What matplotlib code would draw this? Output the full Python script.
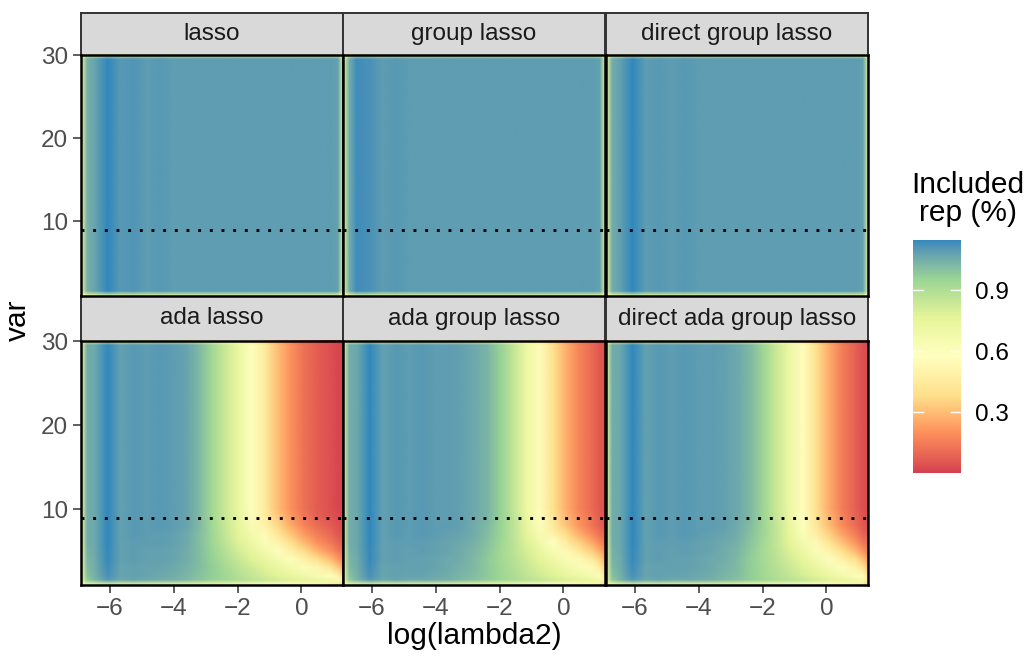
import numpy as np
import matplotlib
matplotlib.use("Agg")
import matplotlib.pyplot as plt
from matplotlib.colors import ListedColormap, Normalize, to_rgb
from matplotlib.image import NonUniformImage
from matplotlib.cm import ScalarMappable

plt.rcParams['font.family'] = ['Liberation Sans', 'DejaVu Sans']

# ---------------- data ----------------
log_lambda2 = [-6.9, -6.49, -6.08, -5.67, -5.26, -4.85, -4.44, -4.03, -3.62, -3.21,
               -2.8, -2.39, -1.98, -1.57, -1.16, -0.75, -0.34, 0.07, 0.48, 0.89, 1.3]
var_ids = list(range(1, 31))
methods = ["lasso", "group lasso", "direct group lasso",
           "ada lasso", "ada group lasso", "direct ada group lasso"]
true_cutoff = 9
x_ticks = [-6, -4, -2, 0]
y_ticks = [10, 20, 30]
fill_limits = (0.0, 1.146)
legend_breaks = [0.3, 0.6, 0.9]

# top row: same profile for every var
lasso_profile = [1.04, 1.07, 1.15, 1.10, 1.11, 1.09, 1.10, 1.09, 1.09, 1.09, 1.09,
                 1.09, 1.09, 1.09, 1.09, 1.09, 1.09, 1.09, 1.09, 1.09, 1.08]
group_lasso_profile = [1.05, 1.13, 1.12, 1.09, 1.10, 1.09, 1.09, 1.09, 1.09, 1.09, 1.09,
                       1.09, 1.09, 1.09, 1.09, 1.09, 1.09, 1.09, 1.09, 1.09, 1.08]
direct_group_lasso_profile = [1.05, 1.08, 1.15, 1.09, 1.10, 1.09, 1.10, 1.09, 1.09, 1.09, 1.09,
                              1.09, 1.09, 1.09, 1.09, 1.09, 1.09, 1.09, 1.09, 1.09, 1.08]

# bottom row: vars 1..9 individually, vars 10..30 share one profile
ada_lasso_low = [
    [0.98, 1.03, 1.10, 1.06, 1.07, 1.06, 1.05, 1.04, 1.02, 0.99, 0.96, 0.93, 0.90, 0.87, 0.84, 0.81, 0.78, 0.75, 0.72, 0.68, 0.64],
    [1.00, 1.04, 1.12, 1.07, 1.08, 1.07, 1.06, 1.05, 1.03, 1.00, 0.97, 0.93, 0.89, 0.85, 0.81, 0.77, 0.73, 0.69, 0.64, 0.58, 0.51],
    [1.02, 1.05, 1.13, 1.07, 1.08, 1.07, 1.07, 1.06, 1.04, 1.01, 0.97, 0.92, 0.87, 0.82, 0.77, 0.72, 0.66, 0.60, 0.52, 0.43, 0.34],
    [1.03, 1.05, 1.14, 1.08, 1.09, 1.08, 1.08, 1.07, 1.05, 1.01, 0.96, 0.90, 0.84, 0.78, 0.72, 0.65, 0.58, 0.49, 0.39, 0.30, 0.22],
    [1.04, 1.06, 1.14, 1.08, 1.09, 1.08, 1.08, 1.07, 1.05, 1.01, 0.95, 0.88, 0.81, 0.74, 0.66, 0.58, 0.48, 0.38, 0.28, 0.20, 0.14],
    [1.05, 1.06, 1.15, 1.08, 1.09, 1.09, 1.09, 1.08, 1.06, 1.01, 0.94, 0.86, 0.78, 0.70, 0.61, 0.50, 0.39, 0.29, 0.20, 0.14, 0.09],
    [1.05, 1.06, 1.15, 1.08, 1.10, 1.09, 1.09, 1.08, 1.06, 1.01, 0.94, 0.85, 0.76, 0.66, 0.55, 0.43, 0.32, 0.22, 0.15, 0.10, 0.06],
    [1.05, 1.06, 1.15, 1.08, 1.10, 1.09, 1.10, 1.09, 1.07, 1.02, 0.93, 0.84, 0.74, 0.62, 0.50, 0.37, 0.26, 0.17, 0.11, 0.07, 0.04],
    [1.05, 1.06, 1.15, 1.08, 1.10, 1.09, 1.10, 1.09, 1.07, 1.02, 0.93, 0.83, 0.73, 0.60, 0.47, 0.33, 0.22, 0.14, 0.08, 0.05, 0.03],
]
ada_lasso_high = [1.05, 1.06, 1.15, 1.08, 1.10, 1.09, 1.10, 1.09, 1.07, 1.02, 0.93,
                  0.83, 0.72, 0.58, 0.45, 0.30, 0.20, 0.12, 0.07, 0.04, 0.02]

ada_group_lasso_low = [
    [0.98, 1.03, 1.10, 1.06, 1.07, 1.06, 1.06, 1.05, 1.04, 1.02, 1.00, 0.97, 0.94, 0.91, 0.88, 0.85, 0.82, 0.79, 0.76, 0.72, 0.68],
    [1.00, 1.04, 1.12, 1.07, 1.08, 1.07, 1.07, 1.06, 1.05, 1.03, 1.01, 0.98, 0.94, 0.90, 0.86, 0.82, 0.78, 0.74, 0.70, 0.65, 0.60],
    [1.02, 1.05, 1.13, 1.07, 1.08, 1.08, 1.08, 1.07, 1.06, 1.04, 1.02, 0.98, 0.94, 0.89, 0.84, 0.79, 0.74, 0.68, 0.62, 0.55, 0.47],
    [1.03, 1.05, 1.14, 1.08, 1.09, 1.08, 1.08, 1.07, 1.06, 1.05, 1.02, 0.98, 0.93, 0.88, 0.82, 0.76, 0.69, 0.62, 0.54, 0.45, 0.36],
    [1.04, 1.06, 1.14, 1.08, 1.09, 1.08, 1.09, 1.08, 1.07, 1.05, 1.03, 0.99, 0.93, 0.87, 0.80, 0.72, 0.63, 0.54, 0.44, 0.34, 0.26],
    [1.05, 1.06, 1.15, 1.08, 1.09, 1.09, 1.09, 1.08, 1.07, 1.06, 1.04, 1.00, 0.94, 0.87, 0.78, 0.68, 0.57, 0.46, 0.35, 0.25, 0.18],
    [1.05, 1.06, 1.15, 1.08, 1.10, 1.09, 1.10, 1.09, 1.08, 1.07, 1.05, 1.01, 0.95, 0.86, 0.75, 0.63, 0.50, 0.38, 0.27, 0.18, 0.12],
    [1.05, 1.06, 1.15, 1.08, 1.10, 1.09, 1.10, 1.09, 1.09, 1.08, 1.05, 1.02, 0.95, 0.86, 0.73, 0.59, 0.45, 0.32, 0.21, 0.13, 0.08],
    [1.05, 1.06, 1.15, 1.08, 1.10, 1.09, 1.10, 1.09, 1.09, 1.08, 1.06, 1.03, 0.96, 0.86, 0.72, 0.57, 0.42, 0.29, 0.19, 0.12, 0.07],
]
ada_group_lasso_high = [1.05, 1.06, 1.15, 1.08, 1.10, 1.09, 1.10, 1.09, 1.09, 1.08, 1.06,
                        1.03, 0.96, 0.85, 0.70, 0.55, 0.40, 0.27, 0.17, 0.10, 0.06]

direct_ada_group_lasso_low = [
    [0.98, 1.03, 1.10, 1.06, 1.07, 1.06, 1.06, 1.05, 1.04, 1.02, 1.00, 0.97, 0.94, 0.91, 0.88, 0.85, 0.81, 0.77, 0.73, 0.69, 0.65],
    [1.00, 1.04, 1.12, 1.07, 1.08, 1.07, 1.07, 1.06, 1.05, 1.03, 1.01, 0.97, 0.93, 0.89, 0.85, 0.81, 0.77, 0.72, 0.67, 0.61, 0.55],
    [1.02, 1.05, 1.13, 1.07, 1.08, 1.08, 1.08, 1.07, 1.06, 1.04, 1.02, 0.97, 0.93, 0.88, 0.83, 0.78, 0.72, 0.65, 0.58, 0.50, 0.42],
    [1.03, 1.05, 1.14, 1.08, 1.09, 1.08, 1.08, 1.07, 1.06, 1.05, 1.02, 0.97, 0.92, 0.87, 0.81, 0.74, 0.66, 0.58, 0.49, 0.40, 0.31],
    [1.04, 1.06, 1.14, 1.08, 1.09, 1.08, 1.09, 1.08, 1.07, 1.05, 1.03, 0.98, 0.92, 0.86, 0.78, 0.70, 0.60, 0.50, 0.39, 0.29, 0.21],
    [1.05, 1.06, 1.15, 1.08, 1.09, 1.09, 1.09, 1.08, 1.07, 1.06, 1.04, 0.99, 0.93, 0.85, 0.76, 0.66, 0.54, 0.42, 0.31, 0.21, 0.14],
    [1.05, 1.06, 1.15, 1.08, 1.10, 1.09, 1.10, 1.09, 1.08, 1.07, 1.05, 1.00, 0.94, 0.85, 0.74, 0.61, 0.48, 0.35, 0.24, 0.15, 0.09],
    [1.05, 1.06, 1.15, 1.08, 1.10, 1.09, 1.10, 1.09, 1.09, 1.08, 1.05, 1.01, 0.94, 0.85, 0.72, 0.58, 0.44, 0.30, 0.19, 0.11, 0.06],
    [1.05, 1.06, 1.15, 1.08, 1.10, 1.09, 1.10, 1.09, 1.09, 1.08, 1.06, 1.02, 0.94, 0.84, 0.71, 0.57, 0.42, 0.28, 0.17, 0.09, 0.05],
]
direct_ada_group_lasso_high = [1.05, 1.06, 1.15, 1.08, 1.10, 1.09, 1.10, 1.09, 1.09, 1.08, 1.06,
                               1.02, 0.94, 0.83, 0.70, 0.56, 0.40, 0.26, 0.15, 0.08, 0.04]

# ---------------- build matrices ----------------
n_var = len(var_ids)


def top_matrix(profile):
    return np.tile(np.array(profile, float), (n_var, 1))


def bottom_matrix(low, high):
    low = np.array(low, float)
    return np.vstack([low, np.tile(np.array(high, float), (n_var - low.shape[0], 1))])


matrices = [top_matrix(lasso_profile), top_matrix(group_lasso_profile),
            top_matrix(direct_group_lasso_profile),
            bottom_matrix(ada_lasso_low, ada_lasso_high),
            bottom_matrix(ada_group_lasso_low, ada_group_lasso_high),
            bottom_matrix(direct_ada_group_lasso_low, direct_ada_group_lasso_high)]

# ---------------- colour scale (Spectral, interpolated in CIELAB like ggplot) ----------------
spectral7 = ['#D53E4F', '#FC8D59', '#FEE08B', '#FFFFBF', '#E6F598', '#99D594', '#3288BD']
_M = np.array([[0.4124564, 0.3575761, 0.1804375],
               [0.2126729, 0.7151522, 0.0721750],
               [0.0193339, 0.1191920, 0.9503041]])
_WHITE = np.array([0.95047, 1.0, 1.08883])


def _to_lab(rgb):
    rgb = np.asarray(rgb, float)
    lin = np.where(rgb <= 0.04045, rgb / 12.92, ((rgb + 0.055) / 1.055) ** 2.4)
    xyz = lin @ _M.T / _WHITE
    f = np.where(xyz > (6 / 29) ** 3, np.cbrt(xyz), xyz / (3 * (6 / 29) ** 2) + 4 / 29)
    return np.stack([116 * f[..., 1] - 16, 500 * (f[..., 0] - f[..., 1]),
                     200 * (f[..., 1] - f[..., 2])], axis=-1)


def _from_lab(lab):
    fy_ = (lab[..., 0] + 16) / 116
    fx_ = fy_ + lab[..., 1] / 500
    fz_ = fy_ - lab[..., 2] / 200
    f = np.stack([fx_, fy_, fz_], axis=-1)
    xyz = np.where(f > 6 / 29, f ** 3, 3 * (6 / 29) ** 2 * (f - 4 / 29)) * _WHITE
    lin = xyz @ np.linalg.inv(_M).T
    lin = np.clip(lin, 0, 1)
    rgb = np.where(lin <= 0.0031308, 12.92 * lin, 1.055 * lin ** (1 / 2.4) - 0.055)
    return np.clip(rgb, 0, 1)


_labs = _to_lab(np.array([to_rgb(c) for c in spectral7]))
_pos = np.linspace(0, 1, len(spectral7))
_t = np.linspace(0, 1, 512)
_lab_interp = np.stack([np.interp(_t, _pos, _labs[:, k]) for k in range(3)], axis=-1)
cmap = ListedColormap(_from_lab(_lab_interp))
norm = Normalize(*fill_limits)

# ---------------- figure ----------------
W, H = 1027, 657
fig = plt.figure(figsize=(W / 100, H / 100), dpi=100)

col_x = [81, 343, 606]
col_w = 262
rows = [(13, 55, 296), (296, 341, 585)]  # strip top, panel top, panel bottom

tick_fs = 17.5
title_fs = 21.5
halo = 0.72
hx, hy = 0.18, 0.55


def fx(px):
    return px / W


def fy(py):
    return 1 - py / H


xmin, xmax = log_lambda2[0], log_lambda2[-1]
ymin, ymax = var_ids[0], var_ids[-1]

for i, (name, Z) in enumerate(zip(methods, matrices)):
    r, c = divmod(i, 3)
    st, pt, pb = rows[r]
    x0 = col_x[c]
    ax = fig.add_axes([fx(x0), fy(pb), col_w / W, (pb - pt) / H])
    sax = fig.add_axes([fx(x0), fy(pt), col_w / W, (pt - st) / H])

    x = np.array(log_lambda2, float)
    y = np.array(var_ids, float)
    xs = np.concatenate([[x[0], x[0] + hx], x[1:-1], [x[-1] - hx, x[-1]]])
    ys = np.concatenate([[y[0], y[0] + hy], y[1:-1], [y[-1] - hy, y[-1]]])
    Zp = np.pad(Z, 1, mode='edge')
    Zp[0, :] *= halo
    Zp[-1, :] *= halo
    Zp[:, 0] *= halo
    Zp[:, -1] *= halo
    im = NonUniformImage(ax, interpolation='bilinear', cmap=cmap, norm=norm,
                         extent=(xmin, xmax, ymin, ymax))
    im.set_data(xs, ys, Zp)
    ax.add_image(im)
    ax.axhline(true_cutoff, color='black', lw=2.1, linestyle=(0, (1, 3)),
               dash_capstyle='butt')
    ax.set_xlim(xmin, xmax)
    ax.set_ylim(ymin, ymax)
    ax.set_xticks(x_ticks)
    ax.set_yticks(y_ticks)
    ax.tick_params(length=5.5, width=1.1, color='#333333', labelcolor='#4D4D4D',
                   labelsize=tick_fs, pad=4)
    if c != 0:
        ax.tick_params(axis='y', left=False, labelleft=False)
    if r == 0:
        ax.tick_params(axis='x', bottom=False, labelbottom=False)
    ax.set_xticklabels(['\u22126', '\u22124', '\u22122', '0'])
    for s in ax.spines.values():
        s.set_color('black')
        s.set_linewidth(1.8)
    ax.set_zorder(2)

    sax.set_facecolor('#D9D9D9')
    sax.set_xticks([])
    sax.set_yticks([])
    for s in sax.spines.values():
        s.set_color('#333333')
        s.set_linewidth(1.4)
    sax.text(0.5, 0.5, name, ha='center', va='center', fontsize=tick_fs,
             color='#1A1A1A', transform=sax.transAxes)

# axis titles
fig.text(fx(474), fy(636), 'log(lambda2)', ha='center', va='center', fontsize=title_fs)
fig.text(fx(18), fy(320), 'var', ha='center', va='center', rotation=90, fontsize=title_fs)

# legend
cax = fig.add_axes([fx(913), fy(473), 48 / W, 233 / H])
cb = fig.colorbar(ScalarMappable(norm=norm, cmap=cmap), cax=cax)
cb.outline.set_visible(False)
cb.set_ticks(legend_breaks)
cb.set_ticklabels([f'{b:.1f}' for b in legend_breaks])
cax.tick_params(length=0, labelsize=tick_fs, pad=10, labelcolor='black')
for b in legend_breaks:
    cax.plot([0, 0.2], [b, b], color='white', lw=1.0, transform=cax.get_yaxis_transform())
    cax.plot([0.8, 1.0], [b, b], color='white', lw=1.0, transform=cax.get_yaxis_transform())
fig.text(fx(968), fy(199), 'Included\nrep (%)', ha='center', va='center',
         fontsize=title_fs, linespacing=1.0)

fig.savefig('out.png', dpi=100)
